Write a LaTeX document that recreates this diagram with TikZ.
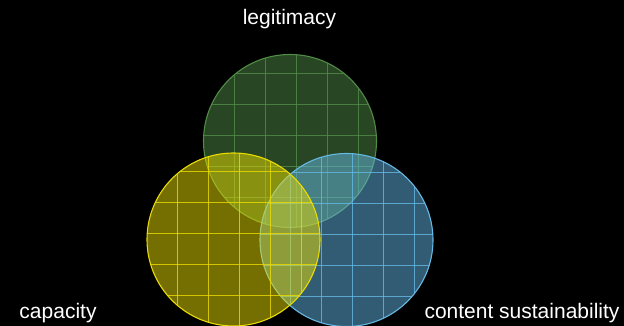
\documentclass[tikz,border=0pt]{standalone}
\usepackage{fontspec}
\setmainfont{Liberation Sans}
\usetikzlibrary{calc}
\definecolor{legc}{RGB}{80,140,70}
\definecolor{capc}{RGB}{235,220,0}
\definecolor{susc}{RGB}{100,185,230}
\tikzset{
  venn/.style={circle, minimum size=173pt, inner sep=0pt, draw=#1,
    line width=1.1pt, fill=#1, fill opacity=0.5, draw opacity=1,
    path picture={
      \foreach \k in {1,...,5}{
        \draw[#1, line width=0.8pt, draw opacity=0.8]
          ($(path picture bounding box.center)+(-87+31*\k,-90)$) --
          ($(path picture bounding box.center)+(-87+31*\k,90)$);
        \draw[#1, line width=0.8pt, draw opacity=0.8]
          ($(path picture bounding box.center)+(-90,-87+31*\k)$) --
          ($(path picture bounding box.center)+(90,-87+31*\k)$);
      }
    }},
  label/.style={text=white, anchor=base, inner sep=0pt,
    font=\fontsize{21}{25}\selectfont}
}
\begin{document}
\begin{tikzpicture}[x=1pt,y=1pt]
  \fill[black] (0,0) rectangle (624,326);
  \useasboundingbox (0,0) rectangle (624,326);
  % three overlapping sets
  \node[venn=legc] (legitimacy) at (290,185) {};
  \node[venn=susc] (sustain) at (346.5,86) {};
  \node[venn=capc] (capacity) at (233.5,86.5) {};
  % set names
  \node[label] (tleg) at (289.5,301) {legitimacy};
  \node[label] (tcap) at (58,7) {capacity};
  \node[label] (tsus) at (522,7) {content sustainability};
\end{tikzpicture}
\end{document}
